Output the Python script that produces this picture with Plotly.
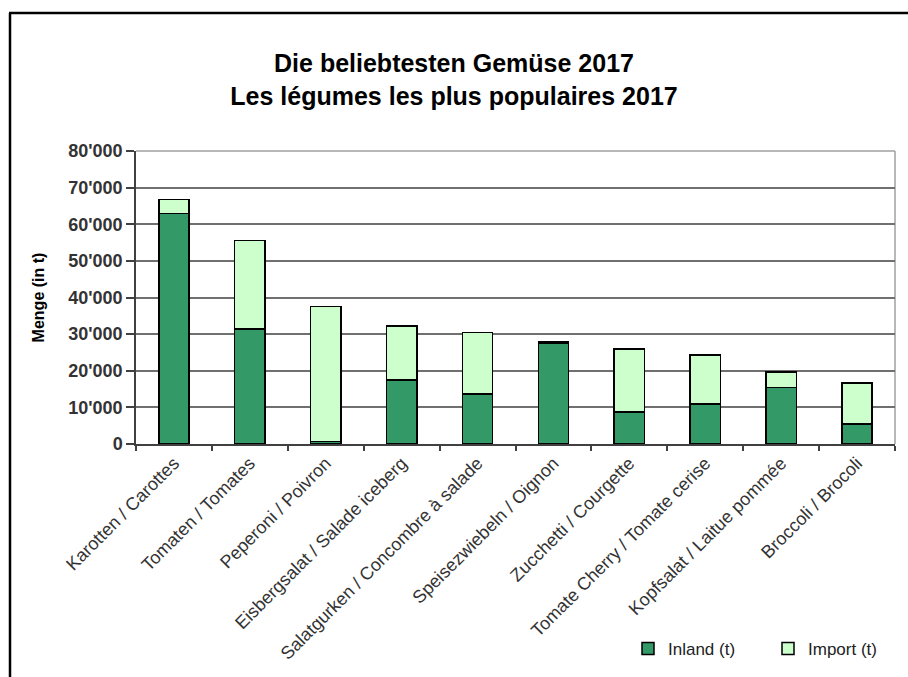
import plotly.graph_objects as go

categories = [
    "Karotten / Carottes",
    "Tomaten / Tomates",
    "Peperoni / Poivron",
    "Eisbergsalat / Salade iceberg",
    "Salatgurken / Concombre à salade",
    "Speisezwiebeln / Oignon",
    "Zucchetti / Courgette",
    "Tomate Cherry / Tomate cerise",
    "Kopfsalat / Laitue pommée",
    "Broccoli / Brocoli",
]
inland = [63000, 31400, 700, 17500, 13700, 27500, 8800, 10900, 15400, 5400]
imports = [3700, 24100, 36800, 14700, 16800, 400, 17100, 13400, 4200, 11200]
y_ticks = [0, 10000, 20000, 30000, 40000, 50000, 60000, 70000, 80000]

FONT = "Liberation Sans, Arial, sans-serif"

W, H = 908, 677
L, R, T, B = 136, 895, 151, 444  # plot area pixel bounds
pw, ph = R - L, B - T

def px(x):
    return (x - L) / pw

def py(y):
    return (B - y) / ph

fig = go.Figure()
fig.add_trace(go.Bar(
    x=categories, y=inland, name="Inland (t)",
    marker=dict(color="#339966", line=dict(color="#000000", width=1.5)),
    width=0.4,
))
fig.add_trace(go.Bar(
    x=categories, y=imports, name="Import (t)",
    marker=dict(color="#ccffcc", line=dict(color="#000000", width=1.5)),
    width=0.4,
))

fig.update_layout(
    barmode="stack",
    width=W, height=H,
    margin=dict(l=L, r=W - R, t=T, b=H - B, autoexpand=False),
    paper_bgcolor="white",
    plot_bgcolor="white",
    separators=".'",
    font=dict(family=FONT, color="#000000"),
    title=dict(
        text="<b>Die beliebtesten Gemüse 2017<br>Les légumes les plus populaires 2017</b>",
        font=dict(family=FONT, size=25, color="#000000"),
        x=0.5, xanchor="center", xref="container",
        y=1 - 72 / H, yanchor="middle", yref="container",
    ),
    showlegend=True,
    legend=dict(
        orientation="h",
        xref="container", yref="container",
        x=628 / W, y=1 - 649 / H, xanchor="left", yanchor="middle",
        font=dict(family=FONT, size=17, color="#222222"),
        itemwidth=30,
        entrywidth=95,
        traceorder="normal",
        bgcolor="rgba(0,0,0,0)",
    ),
)

fig.update_yaxes(
    range=[0, 80000],
    tickvals=y_ticks,
    tickformat=",d",
    showgrid=True, gridcolor="#707070", gridwidth=1.5,
    zeroline=False,
    showline=True, linecolor="#404040", linewidth=1.5,
    ticks="outside", ticklen=8, tickcolor="#404040", tickwidth=1.5,
    tickfont=dict(family=FONT, size=18, color="#333333", weight="bold"),
    title=dict(text="<b>Menge (in t)</b>", font=dict(family=FONT, size=16, color="#000000"), standoff=20),
)
fig.update_xaxes(
    tickangle=-45,
    showline=True, linecolor="#404040", linewidth=1.5,
    ticks="outside", ticklen=5, tickcolor="#404040", tickwidth=1.5,
    tickson="boundaries",
    tickfont=dict(family=FONT, size=18, color="#333333"),
    showgrid=False,
)

# plot area border (light gray) top and right
fig.add_shape(type="line", xref="paper", yref="paper", x0=0, x1=1, y0=1, y1=1,
              line=dict(color="#a0a0a0", width=1.5), layer="below")
fig.add_shape(type="line", xref="paper", yref="paper", x0=1, x1=1, y0=0, y1=1,
              line=dict(color="#a0a0a0", width=1.5), layer="below")

# outer frame lines (top and left)
fig.add_shape(type="line", xref="paper", yref="paper",
              x0=px(9), x1=px(W + 5), y0=py(13), y1=py(13),
              line=dict(color="#000000", width=2.5))
fig.add_shape(type="line", xref="paper", yref="paper",
              x0=px(10), x1=px(10), y0=py(13), y1=py(H + 5),
              line=dict(color="#000000", width=2.5))

fig.write_html("out.html")
